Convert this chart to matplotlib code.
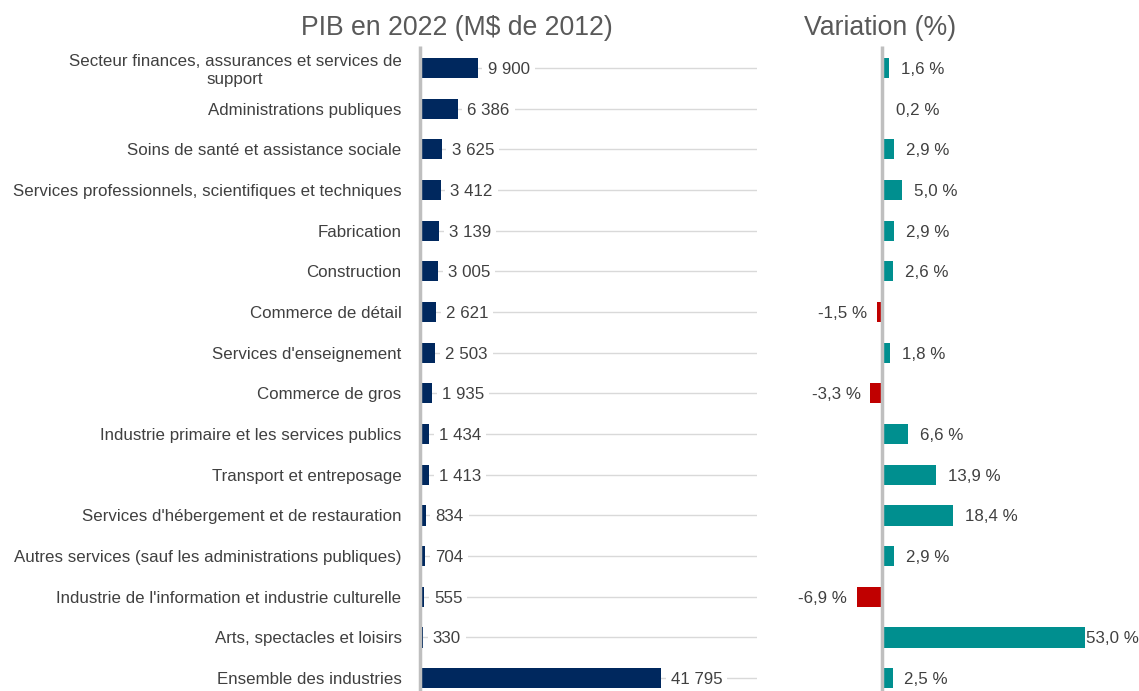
import matplotlib.pyplot as plt
from matplotlib.transforms import offset_copy, blended_transform_factory

plt.rcParams['font.family'] = ['Liberation Sans', 'DejaVu Sans']

industries = [
    "Secteur finances, assurances et services de\nsupport",
    "Administrations publiques",
    "Soins de santé et assistance sociale",
    "Services professionnels, scientifiques et techniques",
    "Fabrication",
    "Construction",
    "Commerce de détail",
    "Services d'enseignement",
    "Commerce de gros",
    "Industrie primaire et les services publics",
    "Transport et entreposage",
    "Services d'hébergement et de restauration",
    "Autres services (sauf les administrations publiques)",
    "Industrie de l'information et industrie culturelle",
    "Arts, spectacles et loisirs",
    "Ensemble des industries",
]
pib_2022 = [9900, 6386, 3625, 3412, 3139, 3005, 2621, 2503, 1935, 1434, 1413, 834, 704, 555, 330, 41795]
variation = [1.6, 0.2, 2.9, 5.0, 2.9, 2.6, -1.5, 1.8, -3.3, 6.6, 13.9, 18.4, 2.9, -6.9, 53.0, 2.5]

navy = '#00285E'
teal = '#008F8F'
red = '#C00000'
txt = '#404040'
W, H = 1139, 691
fs = 12.2

fig = plt.figure(figsize=(W / 100, H / 100), dpi=100)

# row centres: first at y=68 px, spacing ~40.67 px
step = (678 - 68) / 15
top_px, bot_px = 46, 691
y_top = (68 - top_px) / step
y_bot = (bot_px - 68) / step
ax_h = (bot_px - top_px) / H
ax_b = 1 - bot_px / H

ax1 = fig.add_axes([421 / W, ax_b, (757 - 421) / W, ax_h])
ax2 = fig.add_axes([800 / W, ax_b, (1139 - 800) / W, ax_h])

ypos = list(range(len(industries)))


def zero_line(ax):
    # grey category axis, drawn just left of the bars
    tr = blended_transform_factory(ax.transData, ax.transAxes)
    tr = offset_copy(tr, fig=fig, x=-1.5, y=0, units='dots')
    ax.plot([0, 0], [0, 1], transform=tr, color='#bfbfbf', lw=2.5,
            zorder=4, solid_capstyle='butt', clip_on=False)


# left panel
xmax1 = 41795 * (757 - 421) / (661 - 421)
ax1.set_xlim(0, xmax1)
ax1.set_ylim(y_bot, -y_top)
for y in ypos:
    ax1.plot([0, xmax1], [y, y], color='#d9d9d9', lw=1, zorder=0)
ax1.barh(ypos, pib_2022, height=0.5, color=navy, zorder=2)
for y, v in zip(ypos, pib_2022):
    lab = f"{v:,}".replace(',', ' ')
    ax1.annotate(lab, (v, y), xytext=(7, -1), textcoords='offset points',
                 ha='left', va='center', fontsize=fs, color=txt,
                 bbox=dict(boxstyle='square,pad=0.3', fc='white', ec='none'), zorder=3)
ax1.set_yticks(ypos)
ax1.set_yticklabels(industries, fontsize=fs, color=txt, multialignment='center')
ax1.tick_params(axis='y', length=0, pad=14)
ax1.set_xticks([])
for s in ax1.spines.values():
    s.set_visible(False)
zero_line(ax1)

# right panel
scale = (1085 - 883) / 53.0
xl = -(883 - 800) / scale
xr = (1139 - 883) / scale
ax2.set_xlim(xl, xr)
ax2.set_ylim(y_bot, -y_top)
cols = [teal if v >= 0 else red for v in variation]
ax2.barh(ypos, variation, height=0.5, color=cols, zorder=2)
for y, v in zip(ypos, variation):
    lab = f"{v:.1f} %".replace('.', ',')
    if v >= 0:
        off = 0.5 if v > 40 else 8.5
        ax2.annotate(lab, (v, y), xytext=(off, -1), textcoords='offset points',
                     ha='left', va='center', fontsize=fs, color=txt)
    else:
        ax2.annotate(lab, (v, y), xytext=(-7, -1), textcoords='offset points',
                     ha='right', va='center', fontsize=fs, color=txt)
ax2.set_xticks([])
ax2.set_yticks([])
for s in ax2.spines.values():
    s.set_visible(False)
zero_line(ax2)

fig.text(457 / W, 1 - 28 / H, "PIB en 2022 (M$ de 2012)", ha='center', va='center',
         fontsize=19.2, color='#595959')
fig.text(880 / W, 1 - 28 / H, "Variation (%)", ha='center', va='center',
         fontsize=19.2, color='#595959')

fig.savefig('out.png', dpi=100, facecolor='white')
